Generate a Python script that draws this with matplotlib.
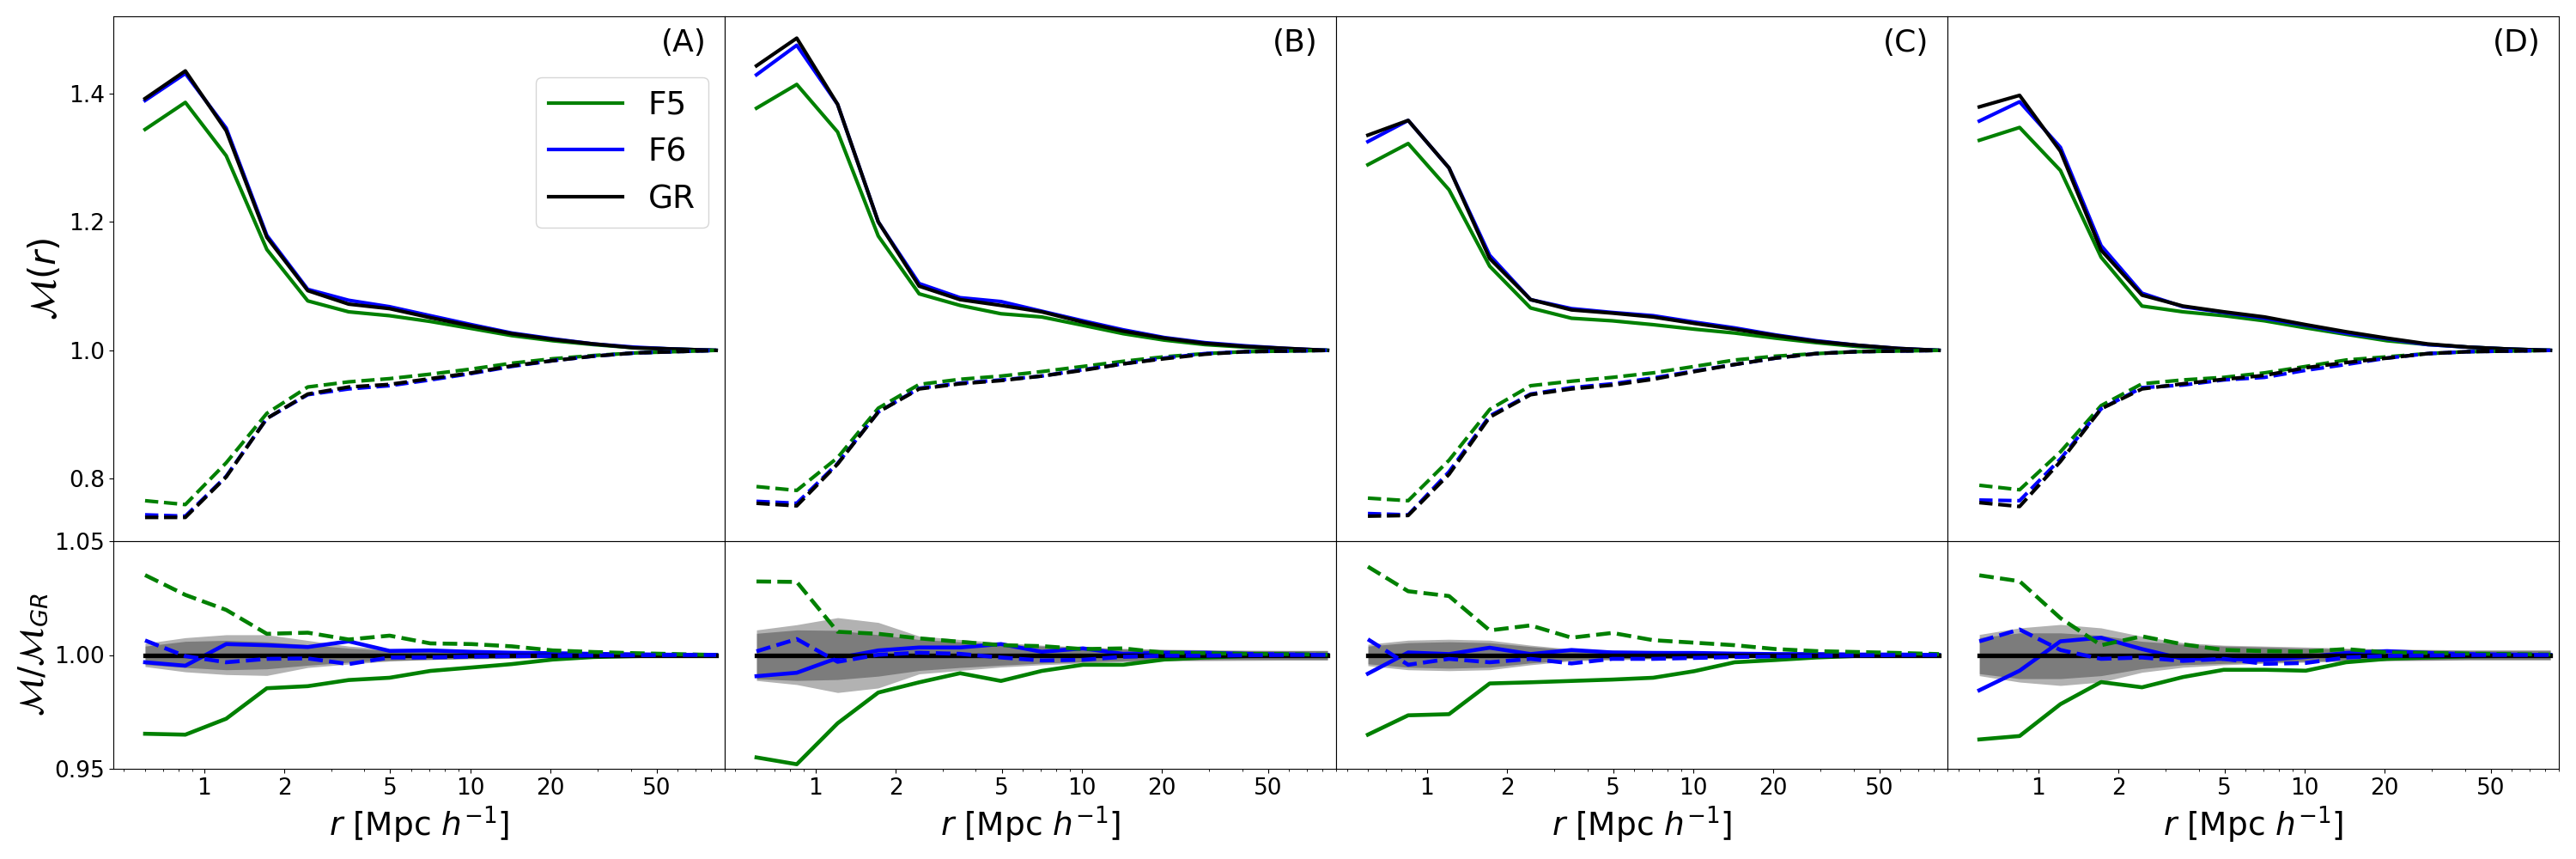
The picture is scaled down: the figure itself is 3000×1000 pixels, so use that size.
import numpy as np
import matplotlib
matplotlib.use('Agg')
import matplotlib.pyplot as plt
from matplotlib.lines import Line2D

# separation r [Mpc/h], same bins in every panel
r = [0.60, 0.85, 1.21, 1.72, 2.45, 3.49, 4.97, 7.07, 10.1, 14.3, 20.4, 29.0, 41.3, 58.8, 83.7]
panels = ['(A)', '(B)', '(C)', '(D)']

# M(r), solid curves (one row per panel)
m_f5 = [[1.344, 1.386, 1.303, 1.157, 1.077, 1.060, 1.054, 1.045, 1.034, 1.023, 1.015, 1.009, 1.004, 1.002, 1.000],
        [1.377, 1.414, 1.340, 1.178, 1.088, 1.070, 1.057, 1.052, 1.039, 1.026, 1.016, 1.009, 1.005, 1.002, 1.000],
        [1.289, 1.322, 1.250, 1.131, 1.066, 1.050, 1.046, 1.040, 1.033, 1.027, 1.019, 1.012, 1.006, 1.002, 1.000],
        [1.327, 1.347, 1.280, 1.145, 1.069, 1.060, 1.054, 1.046, 1.035, 1.025, 1.015, 1.009, 1.005, 1.002, 1.000]]
m_f6 = [[1.389, 1.431, 1.346, 1.179, 1.095, 1.078, 1.068, 1.054, 1.040, 1.027, 1.018, 1.010, 1.005, 1.002, 1.000],
        [1.429, 1.475, 1.383, 1.200, 1.104, 1.082, 1.076, 1.061, 1.046, 1.032, 1.020, 1.012, 1.007, 1.003, 1.000],
        [1.325, 1.358, 1.284, 1.148, 1.079, 1.065, 1.059, 1.054, 1.044, 1.035, 1.024, 1.015, 1.008, 1.003, 1.000],
        [1.357, 1.387, 1.316, 1.163, 1.089, 1.068, 1.059, 1.050, 1.039, 1.027, 1.018, 1.009, 1.005, 1.002, 1.000]]
m_gr = [[1.392, 1.435, 1.342, 1.176, 1.093, 1.072, 1.065, 1.051, 1.038, 1.026, 1.017, 1.010, 1.004, 1.002, 1.000],
        [1.443, 1.486, 1.383, 1.200, 1.100, 1.079, 1.070, 1.060, 1.044, 1.030, 1.019, 1.011, 1.006, 1.003, 1.000],
        [1.335, 1.358, 1.284, 1.143, 1.079, 1.063, 1.058, 1.052, 1.042, 1.033, 1.023, 1.014, 1.008, 1.003, 1.000],
        [1.379, 1.397, 1.310, 1.156, 1.086, 1.069, 1.060, 1.052, 1.040, 1.029, 1.019, 1.010, 1.005, 1.002, 1.000]]

# M(r), dashed curves
m_f5_d = [[0.766, 0.760, 0.825, 0.902, 0.943, 0.951, 0.956, 0.963, 0.971, 0.980, 0.987, 0.992, 0.996, 0.998, 1.000],
          [0.788, 0.782, 0.833, 0.910, 0.947, 0.955, 0.960, 0.967, 0.975, 0.983, 0.990, 0.995, 0.998, 0.999, 1.000],
          [0.770, 0.766, 0.829, 0.908, 0.945, 0.952, 0.958, 0.965, 0.975, 0.985, 0.991, 0.995, 0.998, 0.999, 1.000],
          [0.790, 0.783, 0.842, 0.914, 0.948, 0.954, 0.958, 0.965, 0.975, 0.985, 0.990, 0.995, 0.998, 0.999, 1.000]]
m_f6_d = [[0.744, 0.742, 0.804, 0.894, 0.931, 0.940, 0.945, 0.954, 0.964, 0.975, 0.984, 0.991, 0.996, 0.998, 1.000],
          [0.765, 0.762, 0.824, 0.904, 0.941, 0.949, 0.954, 0.960, 0.970, 0.979, 0.988, 0.995, 0.998, 0.999, 1.000],
          [0.746, 0.744, 0.811, 0.898, 0.932, 0.942, 0.948, 0.957, 0.968, 0.978, 0.988, 0.995, 0.998, 0.999, 1.000],
          [0.767, 0.766, 0.831, 0.909, 0.942, 0.946, 0.954, 0.958, 0.969, 0.978, 0.988, 0.995, 0.998, 0.999, 1.000]]
m_gr_d = [[0.740, 0.740, 0.803, 0.894, 0.932, 0.943, 0.947, 0.956, 0.965, 0.976, 0.984, 0.991, 0.996, 0.998, 1.000],
          [0.762, 0.758, 0.823, 0.904, 0.940, 0.948, 0.953, 0.960, 0.969, 0.979, 0.987, 0.994, 0.998, 0.999, 1.000],
          [0.742, 0.743, 0.807, 0.896, 0.931, 0.940, 0.946, 0.955, 0.967, 0.978, 0.988, 0.995, 0.998, 0.999, 1.000],
          [0.763, 0.757, 0.827, 0.909, 0.940, 0.948, 0.955, 0.961, 0.973, 0.981, 0.988, 0.995, 0.998, 0.999, 1.000]]

# ratio to GR, lower panels
q_f5 = [[0.9654, 0.9650, 0.9720, 0.9854, 0.9863, 0.9890, 0.9900, 0.9930, 0.9945, 0.9960, 0.9980, 0.9991, 0.9995, 0.9998, 1.0],
        [0.9550, 0.9520, 0.9700, 0.9835, 0.9880, 0.9920, 0.9886, 0.9930, 0.9957, 0.9957, 0.9980, 0.9989, 0.9995, 0.9997, 1.0],
        [0.9650, 0.9735, 0.9740, 0.9875, 0.9880, 0.9886, 0.9892, 0.9900, 0.9929, 0.9968, 0.9978, 0.9989, 0.9996, 0.9998, 1.0],
        [0.9629, 0.9644, 0.9784, 0.9881, 0.9858, 0.9903, 0.9935, 0.9935, 0.9931, 0.9968, 0.9983, 0.9989, 0.9994, 0.9996, 1.0]]
q_f6 = [[0.9968, 0.9953, 1.0048, 1.0043, 1.0035, 1.0060, 1.0018, 1.0020, 1.0014, 1.0010, 1.0008, 1.0005, 1.0003, 1.0001, 1.0],
        [0.9907, 0.9922, 0.9987, 1.0020, 1.0033, 1.0033, 1.0048, 1.0014, 1.0029, 1.0005, 1.0010, 1.0010, 1.0005, 1.0003, 1.0],
        [0.9918, 1.0011, 1.0004, 1.0032, 1.0004, 1.0022, 1.0011, 1.0009, 1.0009, 1.0006, 1.0004, 1.0004, 1.0002, 1.0002, 1.0],
        [0.9845, 0.9931, 1.0060, 1.0076, 1.0026, 0.9983, 0.9983, 0.9978, 0.9991, 1.0009, 1.0017, 1.0009, 1.0004, 1.0002, 1.0]]
q_f5_d = [[1.0351, 1.0264, 1.0198, 1.0093, 1.0098, 1.0068, 1.0085, 1.0051, 1.0048, 1.0038, 1.0020, 1.0013, 1.0008, 1.0004, 1.0],
          [1.0323, 1.0321, 1.0102, 1.0093, 1.0073, 1.0058, 1.0043, 1.0039, 1.0026, 1.0029, 1.0010, 1.0008, 1.0005, 1.0004, 1.0001],
          [1.0388, 1.0280, 1.0259, 1.0108, 1.0130, 1.0076, 1.0097, 1.0065, 1.0054, 1.0043, 1.0026, 1.0017, 1.0013, 1.0009, 1.0004],
          [1.0350, 1.0324, 1.0162, 1.0043, 1.0082, 1.0047, 1.0022, 1.0017, 1.0015, 1.0026, 1.0011, 1.0009, 1.0006, 1.0004, 1.0002]]
q_f6_d = [[1.0064, 0.9995, 0.9968, 0.9983, 0.9985, 0.9960, 0.9989, 0.9989, 0.9993, 0.9995, 0.9996, 0.9998, 0.9999, 1.0, 1.0],
          [1.0016, 1.0070, 0.9970, 1.0001, 1.0010, 1.0005, 0.9989, 0.9976, 0.9979, 0.9992, 0.9997, 0.9997, 0.9999, 1.0, 1.0],
          [1.0069, 0.9957, 0.9983, 0.9968, 0.9983, 0.9963, 0.9983, 0.9983, 0.9987, 0.9991, 0.9994, 0.9996, 0.9998, 1.0, 1.0],
          [1.0060, 1.0112, 1.0022, 0.9983, 0.9989, 0.9974, 0.9983, 0.9961, 0.9965, 0.9989, 0.9996, 0.9998, 1.0000, 1.0, 1.0]]
q_gr = [1.0] * len(r)

# scatter bands around GR (outer = light, inner = dark)
band_out_hi = [[1.0051, 1.0076, 1.0089, 1.0089, 1.0064, 1.0039, 1.0026, 1.0020, 1.0016, 1.0013, 1.0010, 1.0008, 1.0008, 1.0008, 1.0008],
               [1.0110, 1.0133, 1.0164, 1.0143, 1.0083, 1.0068, 1.0055, 1.0043, 1.0035, 1.0029, 1.0025, 1.0023, 1.0021, 1.0020, 1.0020],
               [1.0047, 1.0065, 1.0069, 1.0065, 1.0043, 1.0026, 1.0022, 1.0020, 1.0017, 1.0015, 1.0013, 1.0013, 1.0011, 1.0011, 1.0011],
               [1.0090, 1.0119, 1.0134, 1.0119, 1.0082, 1.0054, 1.0043, 1.0039, 1.0035, 1.0030, 1.0026, 1.0024, 1.0022, 1.0022, 1.0022]]
band_out_lo = [[0.9949, 0.9926, 0.9914, 0.9910, 0.9945, 0.9960, 0.9973, 0.9980, 0.9983, 0.9985, 0.9989, 0.9991, 0.9993, 0.9993, 0.9993],
               [0.9888, 0.9870, 0.9835, 0.9855, 0.9917, 0.9932, 0.9947, 0.9957, 0.9964, 0.9970, 0.9974, 0.9975, 0.9976, 0.9977, 0.9977],
               [0.9953, 0.9935, 0.9931, 0.9935, 0.9957, 0.9974, 0.9978, 0.9983, 0.9985, 0.9987, 0.9989, 0.9989, 0.9989, 0.9989, 0.9989],
               [0.9909, 0.9881, 0.9866, 0.9881, 0.9924, 0.9946, 0.9957, 0.9963, 0.9968, 0.9972, 0.9974, 0.9976, 0.9978, 0.9978, 0.9978]]
band_in_hi = [[1.0039, 1.0060, 1.0064, 1.0058, 1.0045, 1.0030, 1.0020, 1.0016, 1.0013, 1.0010, 1.0009, 1.0008, 1.0006, 1.0006, 1.0006],
              [1.0095, 1.0110, 1.0108, 1.0089, 1.0068, 1.0058, 1.0048, 1.0039, 1.0033, 1.0026, 1.0023, 1.0020, 1.0019, 1.0019, 1.0019],
              [1.0039, 1.0054, 1.0058, 1.0054, 1.0037, 1.0022, 1.0017, 1.0015, 1.0013, 1.0011, 1.0011, 1.0009, 1.0009, 1.0009, 1.0009],
              [1.0076, 1.0097, 1.0097, 1.0086, 1.0060, 1.0047, 1.0039, 1.0035, 1.0030, 1.0026, 1.0024, 1.0022, 1.0020, 1.0020, 1.0020]]
band_in_lo = [[0.9958, 0.9945, 0.9935, 0.9939, 0.9955, 0.9968, 0.9976, 0.9980, 0.9985, 0.9988, 0.9990, 0.9991, 0.9992, 0.9994, 0.9994],
              [0.9895, 0.9888, 0.9892, 0.9907, 0.9932, 0.9945, 0.9955, 0.9964, 0.9970, 0.9974, 0.9976, 0.9979, 0.9980, 0.9980, 0.9980],
              [0.9961, 0.9946, 0.9942, 0.9946, 0.9965, 0.9978, 0.9983, 0.9985, 0.9987, 0.9989, 0.9989, 0.9991, 0.9991, 0.9991, 0.9991],
              [0.9918, 0.9896, 0.9896, 0.9909, 0.9940, 0.9957, 0.9963, 0.9968, 0.9972, 0.9976, 0.9978, 0.9978, 0.9980, 0.9980, 0.9980]]

fig = plt.figure(figsize=(30, 10), dpi=100)
gs = fig.add_gridspec(2, 4, height_ratios=[611, 265], wspace=0, hspace=0,
                      left=0.0439, right=0.9933, top=0.981, bottom=0.105)

xticks = [1, 2, 5, 10, 20, 50]
lw_top = 3.0
lw_bot = 3.3

for i in range(4):
    ax = fig.add_subplot(gs[0, i])
    ax2 = fig.add_subplot(gs[1, i])

    # upper panel
    ax.plot(r, m_f5[i], color='green', lw=lw_top)
    ax.plot(r, m_f6[i], color='blue', lw=lw_top)
    ax.plot(r, m_gr[i], color='black', lw=lw_top)
    ax.plot(r, m_f5_d[i], color='green', lw=lw_top, ls='--')
    ax.plot(r, m_f6_d[i], color='blue', lw=lw_top, ls='--')
    ax.plot(r, m_gr_d[i], color='black', lw=lw_top, ls='--')
    ax.set_xscale('log')
    ax.set_xlim(0.455, 90)
    ax.set_ylim(0.703, 1.52)
    ax.set_yticks([0.8, 1.0, 1.2, 1.4])
    ax.tick_params(axis='x', which='both', bottom=False, labelbottom=False)
    ax.tick_params(axis='y', labelsize=19)
    ax.text(0.97, 0.95, panels[i], transform=ax.transAxes, ha='right', va='center', fontsize=26)

    # lower panel
    ax2.fill_between(r, band_out_lo[i], band_out_hi[i], color='k', alpha=0.3, lw=0)
    ax2.fill_between(r, band_in_lo[i], band_in_hi[i], color='k', alpha=0.3, lw=0)
    ax2.plot(r, q_f5[i], color='green', lw=lw_bot)
    ax2.plot(r, q_f6[i], color='blue', lw=lw_bot)
    ax2.plot(r, q_gr, color='black', lw=3.8)
    ax2.plot(r, q_f5_d[i], color='green', lw=lw_bot, ls='--')
    ax2.plot(r, q_f6_d[i], color='blue', lw=lw_bot, ls='--')
    ax2.set_xscale('log')
    ax2.set_xlim(0.455, 90)
    ax2.set_ylim(0.95, 1.05)
    ax2.set_yticks([0.95, 1.00, 1.05])
    ax2.set_yticklabels(['0.95', '1.00', '1.05'])
    ax2.set_xticks(xticks)
    ax2.set_xticklabels([str(t) for t in xticks])
    ax2.tick_params(axis='both', labelsize=19)
    ax2.set_xlabel(r'$r$ [Mpc $h^{-1}$]', fontsize=27)

    if i == 0:
        ax.set_ylabel(r'$\mathcal{M}(r)$', fontsize=30)
        ax2.set_ylabel(r'$\mathcal{M}/\mathcal{M}_{GR}$', fontsize=28)
        handles = [Line2D([], [], color='green', lw=3),
                   Line2D([], [], color='blue', lw=3),
                   Line2D([], [], color='black', lw=3)]
        ax.legend(handles, ['F5', 'F6', 'GR'], loc='upper right', bbox_to_anchor=(1, 0.915),
                  fontsize=27, handlelength=2.3)
    else:
        ax.tick_params(axis='y', left=False, labelleft=False)
        ax2.tick_params(axis='y', left=False, labelleft=False)

fig.savefig('out.png', dpi=100)
